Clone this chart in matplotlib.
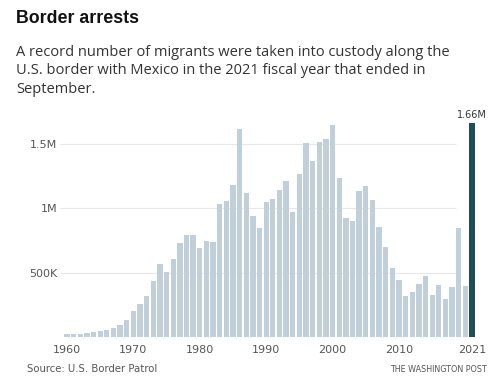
import numpy as np
from matplotlib import pyplot as plt

years = np.arange(1960, 2022)
arrests = [
    21000, 22000, 23000, 33000, 38000, 45000, 57000, 72000, 90000, 132000,   # 1960-69
    199000, 259000, 315000, 437000, 569000, 504000, 605000, 729000, 789000, 794000,  # 1970-79
    690000, 745000, 742000, 1032000, 1060000, 1180000, 1616000, 1120000, 939000, 848000,  # 1980-89
    1047000, 1076000, 1143000, 1210000, 975000, 1270000, 1508000, 1368000, 1518000, 1536000,  # 1990-99
    1645000, 1234000, 926000, 900000, 1138000, 1171000, 1068000, 853000, 703000, 535000,  # 2000-09
    440000, 321000, 349000, 411000, 476000, 323000, 406000, 295000, 390000, 848000,  # 2010-19
    396000, 1660000,  # 2020-21
]
yticks = [500000, 1000000, 1500000]
ytick_labels = ['500K', '1M', '1.5M']
xticks = [1960, 1970, 1980, 1990, 2000, 2010, 2021]

light = '#c0cfd9'
dark = '#1f4e5a'
grey = '#555555'

fig = plt.figure(figsize=(5, 3.83), dpi=100)
ax = fig.add_axes([0.126, 0.120, 0.826, 0.5714])

colors = [light] * (len(years) - 1) + [dark]
ax.bar(years, arrests, width=0.8, color=colors, zorder=2)

ax.set_xlim(1959.4, 2021.6)
ax.set_ylim(0, 1700000)
ax.hlines(yticks, 1958.9, 2018.6, color='#e8e8e8', lw=0.8, zorder=1, clip_on=False)

ax.set_yticks(yticks)
ax.set_yticklabels(ytick_labels)
ax.set_xticks(xticks)
ax.tick_params(length=0, labelsize=8, colors=grey, pad=6)
ax.tick_params(axis='y', pad=4)
for s in ax.spines.values():
    s.set_visible(False)

ax.text(2021, arrests[-1] + 25000, '1.66M', ha='center', va='bottom', fontsize=7, color='#333333')

fig.text(0.032, 0.94, 'Border arrests', fontsize=12.8, fontweight='bold', family='Liberation Sans', color='#111111')
fig.text(0.032, 0.757,
         'A record number of migrants were taken into custody along the\n'
         'U.S. border with Mexico in the 2021 fiscal year that ended in\n'
         'September.',
         fontsize=10.5, family='Open Sans', color='#333333', linespacing=1.33)

fig.text(0.054, 0.028, 'Source: U.S. Border Patrol', fontsize=7.3, color=grey)
fig.text(0.974, 0.028, 'THE WASHINGTON POST', fontsize=5.8, color=grey, ha='right')

fig.savefig('out.png', dpi=100)
